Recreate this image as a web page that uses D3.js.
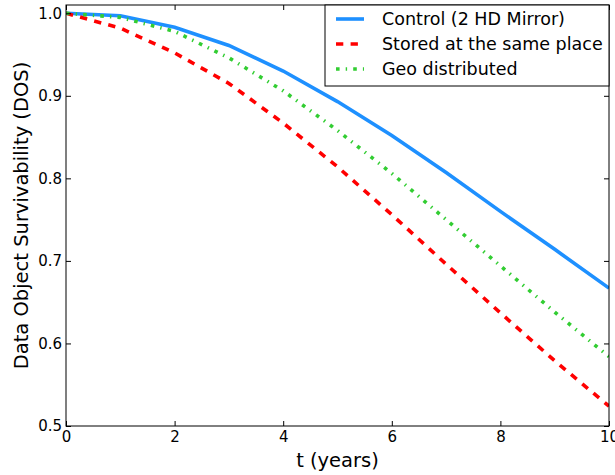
<!DOCTYPE html>
<html>
<head>
<meta charset="utf-8">
<script src="https://cdn.jsdelivr.net/npm/d3@7"></script>
<style>
body{margin:0;background:#fff;}
svg{display:block;font-family:"DejaVu Sans",sans-serif;}
</style>
</head>
<body>
<div id="chart"></div>
<script>
var years = [0,1,2,3,4,5,6,7,8,9,10];
var control = [1.0,0.997,0.983,0.961,0.930,0.893,0.852,0.807,0.760,0.714,0.667];
var stored = [1.0,0.982,0.952,0.915,0.867,0.814,0.756,0.696,0.637,0.579,0.524];
var geo = [1.0,0.995,0.978,0.946,0.906,0.858,0.806,0.750,0.694,0.638,0.584];
var seriesNames = ["Control (2 HD Mirror)","Stored at the same place","Geo distributed"];
var xTicks = [0,2,4,6,8,10];
var yTicks = [0.5,0.6,0.7,0.8,0.9,1.0];

var width = 615, height = 475;
var plotLeft = 66, plotRight = 609, plotTop = 5, plotBottom = 426;

var svg = d3.select("#chart")
    .append("svg")
    .attr("width",width)
    .attr("height",height);

var x = d3.scaleLinear().domain([0,10]).range([plotLeft,plotRight]);
var y = d3.scaleLinear().domain([0.5,1.01]).range([plotBottom,plotTop]);

var styles = [
    {color:"#1e90ff", dash:null},
    {color:"#ff0000", dash:"7.3,7.3"},
    {color:"#32cd32", dash:"3.6,6.1,1.4,6.1"}
];
var allSeries = [control,stored,geo];

var line = d3.line()
    .x((d,i)=>x(years[i]))
    .y(d=>y(d));

svg.append("clipPath").attr("id","clip")
    .append("rect")
    .attr("x",plotLeft).attr("y",plotTop)
    .attr("width",plotRight-plotLeft).attr("height",plotBottom-plotTop);

svg.append("g")
    .attr("clip-path","url(#clip)")
    .selectAll("path")
    .data(allSeries)
    .enter()
    .append("path")
    .attr("d",line)
    .attr("fill","none")
    .attr("stroke",(d,i)=>styles[i].color)
    .attr("stroke-width",3.6)
    .attr("stroke-dasharray",(d,i)=>styles[i].dash);

// axes (ticks inside, like matplotlib classic)
function styleAxis(g){
    g.select(".domain").remove();
    g.selectAll("line").attr("stroke","#000");
    g.selectAll("text").attr("font-size",15).attr("fill","#000")
        .attr("font-family","DejaVu Sans, sans-serif");
}
svg.append("g")
    .attr("transform",`translate(0,${plotBottom})`)
    .call(d3.axisBottom(x).tickValues(xTicks).tickFormat(d3.format("d")).tickSizeInner(-5).tickSizeOuter(0).tickPadding(5))
    .call(styleAxis);
svg.append("g")
    .attr("transform",`translate(0,${plotTop})`)
    .call(d3.axisTop(x).tickValues(xTicks).tickFormat("").tickSizeInner(-5).tickSizeOuter(0))
    .call(styleAxis);
svg.append("g")
    .attr("transform",`translate(${plotLeft},0)`)
    .call(d3.axisLeft(y).tickValues(yTicks).tickFormat(d3.format(".1f")).tickSizeInner(-5).tickSizeOuter(0).tickPadding(4))
    .call(styleAxis);
svg.append("g")
    .attr("transform",`translate(${plotRight},0)`)
    .call(d3.axisRight(y).tickValues(yTicks).tickFormat("").tickSizeInner(-5).tickSizeOuter(0))
    .call(styleAxis);

svg.append("rect")
    .attr("x",plotLeft).attr("y",plotTop)
    .attr("width",plotRight-plotLeft).attr("height",plotBottom-plotTop)
    .attr("fill","none")
    .attr("stroke","#000")
    .attr("stroke-width",1);

svg.append("text")
    .attr("x",(plotLeft+plotRight)/2)
    .attr("y",467)
    .attr("text-anchor","middle")
    .attr("font-size",19.5)
    .text("t (years)");

svg.append("text")
    .attr("transform",`translate(28,${(plotTop+plotBottom)/2}) rotate(-90)`)
    .attr("text-anchor","middle")
    .attr("font-size",19.5)
    .text("Data Object Survivability (DOS)");

// legend
var legend = svg.append("g");
legend.append("rect")
    .attr("x",325).attr("y",plotTop)
    .attr("width",plotRight-325).attr("height",81)
    .attr("fill","#fff")
    .attr("stroke","#000")
    .attr("stroke-width",1);
var item = legend.selectAll("g.item")
    .data(seriesNames)
    .enter()
    .append("g")
    .attr("transform",(d,i)=>`translate(0,${19+i*25})`);
item.append("line")
    .attr("x1",336).attr("x2",364)
    .attr("stroke",(d,i)=>styles[i].color)
    .attr("stroke-width",3.6)
    .attr("stroke-dasharray",(d,i)=>styles[i].dash);
item.append("text")
    .attr("x",382)
    .attr("dy","0.35em")
    .attr("font-size",17.5)
    .text(d=>d);
</script>
</body>
</html>
